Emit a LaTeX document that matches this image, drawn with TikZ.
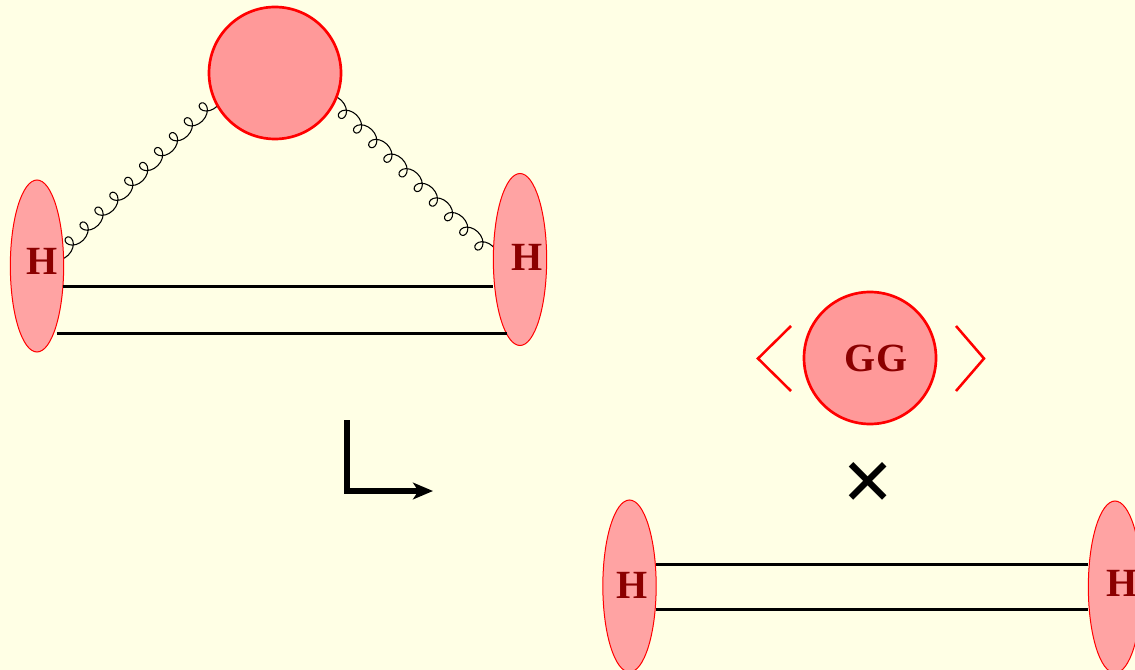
\documentclass[tikz,border=0pt]{standalone}
\usepackage{fontspec}
\setmainfont{Liberation Serif}
\usepackage{tikz}
\usetikzlibrary{shapes.geometric,decorations.pathmorphing,arrows.meta,calc,backgrounds}
\definecolor{paper}{HTML}{FFFFE5}
\definecolor{blobfill}{HTML}{FF9999}
\definecolor{hadronfill}{HTML}{FFA3A3}
\definecolor{labelred}{HTML}{8B0000}

\begin{document}
\begin{tikzpicture}[x=0.75pt, y=-0.75pt,
    hadron/.style={ellipse, draw=red, fill=hadronfill, line width=0.75pt, inner sep=0pt, minimum width=40pt, minimum height=129pt},
    blob/.style={circle, draw=red, fill=blobfill, line width=2pt, inner sep=0pt, minimum size=99pt},
    tag/.style={text=labelred, inner sep=0pt, font=\fontsize{30}{30}\selectfont\bfseries},
    quark/.style={line width=2.1pt},
    gluon/.style={line width=0.8pt, decorate, decoration={coil, aspect=1.15, segment length=15.8pt, amplitude=5.2pt}},
    bracket/.style={draw=red, line width=1.9pt}]
            \useasboundingbox (0,0) rectangle (1135,670);
            \begin{scope}[on background layer]
              \fill[paper] (0,0) rectangle (1135,670);
            \end{scope}

            % upper graph
            \node[blob] (top) at (275,73) {};
            \node[hadron] (HA) at (37,266) {};
            \node[hadron] (HB) at (520,259.5) {};
            \node[tag] (HAtext) at (42,261) {H};
            \node[tag] (HBtext) at (527,257) {H};

            \draw[quark] (HA.-38) -- (HA.-38 -| HB.west);
            \draw[quark, shorten <=2pt, shorten >=-1pt] (HA.-76.2) -- (HA.-76.2 -| HB.-101);
            \begin{scope}[on background layer]
              \draw[gluon, decoration={mirror}] ($(HA.20)!-7pt!(top.208)+(-3.3,-3.3)$) -- ($(top.208)!-18pt!(HA.20)+(-3.3,-3.3)$);
              \draw[gluon] ($(top.-23)!-7pt!(HB.160)+(-3.3,3.3)$) -- ($(HB.160)!-10pt!(top.-23)+(-3.3,3.3)$);
            \end{scope}

            % arrow
            \coordinate (bendstart) at (347,420);
            \coordinate (bendcorner) at (347,491);
            \coordinate (bendend) at (433,491);
            \draw[line width=3.8pt, -{Stealth[length=15pt, width=12.5pt, inset=4pt]}] (bendstart) -- (bendcorner) -- (bendend);

            % condensate
            \node[blob] (cond) at (870,358) {};
            \node[tag] (condtext) at (876,358) {GG};
            \draw[bracket] (791,326) -- (758,358.5) -- (791,391);
            \draw[bracket] (956,326) -- (984,358.5) -- (956,391);
            \node[inner sep=0pt, font=\fontsize{68}{68}\selectfont\bfseries] (times) at (868,487) {×};

            % lower graph
            \node[hadron] (HC) at (629.5,586) {};
            \node[hadron] (HD) at (1115,587) {};
            \node[tag] (HCtext) at (632,585) {H};
            \node[tag] (HDtext) at (1122,583) {H};

            \draw[quark] (HC.39.6) -- (HC.39.6 -| HD.west);
            \draw[quark] (HC.-42) -- (HC.-42 -| HD.west);
\end{tikzpicture}
\end{document}
